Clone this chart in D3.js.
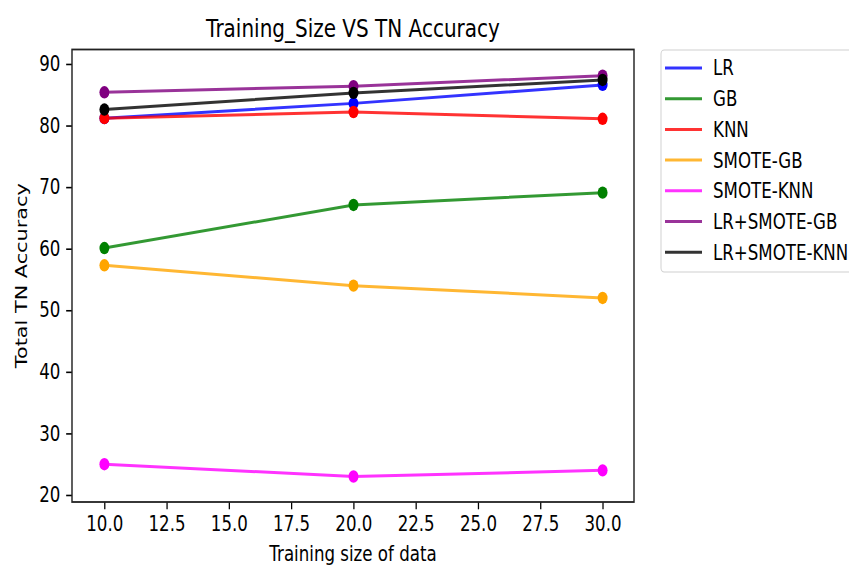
<!DOCTYPE html>
<html>
<head>
<meta charset="utf-8">
<script src="https://cdn.jsdelivr.net/npm/d3@7"></script>
<style>
  html, body { margin: 0; padding: 0; background: #fff; }
  svg { display: block; }
  text { font-family: "DejaVu Sans", sans-serif; fill: #000; }
</style>
</head>
<body>
<svg id="chart" width="849" height="565"></svg>
<script>
// ---- data ----
const trainingSizes = [10, 20, 30];
const seriesNames = ["LR", "GB", "KNN", "SMOTE-GB", "SMOTE-KNN", "LR+SMOTE-GB", "LR+SMOTE-KNN"];
const seriesColors = ["#0000ff", "#008000", "#ff0000", "#ffa500", "#ff00ff", "#800080", "#000000"];
const LR = [81.2, 83.6, 86.6];
const GB = [60.1, 67.1, 69.1];
const KNN = [81.2, 82.2, 81.1];
const SMOTE_GB = [57.3, 54.0, 52.0];
const SMOTE_KNN = [25.0, 23.0, 24.0];
const LR_SMOTE_GB = [85.4, 86.4, 88.1];
const LR_SMOTE_KNN = [82.6, 85.3, 87.4];
const seriesValues = [LR, GB, KNN, SMOTE_GB, SMOTE_KNN, LR_SMOTE_GB, LR_SMOTE_KNN];
const xTickValues = [10, 12.5, 15, 17.5, 20, 22.5, 25, 27.5, 30];
const yTickValues = [20, 30, 40, 50, 60, 70, 80, 90];
const titleText = "Training_Size VS TN Accuracy";
const xLabelText = "Training size of data";
const yLabelText = "Total TN Accuracy";

// ---- layout (the picture is horizontally squeezed) ----
const SX = 0.8;
const svg = d3.select("#chart");
const root = svg.append("g").attr("transform", `scale(${SX},1)`);
const pLeft = 72 / SX, pRight = 634 / SX, pTop = 49.5, pBottom = 502;
const fs = 20.8;

const x = d3.scaleLinear().domain([8.7, 31.26]).range([pLeft, pRight]);
const y = d3.scaleLinear().domain([18.86, 92.35]).range([pBottom, pTop]);

// axes
const xAxis = d3.axisBottom(x).tickValues(xTickValues).tickFormat(d3.format(".1f"))
  .tickSize(7.3).tickPadding(7);
const yAxis = d3.axisLeft(y).tickValues(yTickValues).tickFormat(d3.format("d"))
  .tickSize(7.3).tickPadding(7.3);

const gx = root.append("g").attr("transform", `translate(0,${pBottom})`).call(xAxis);
const gy = root.append("g").attr("transform", `translate(${pLeft},0)`).call(yAxis);
[gx, gy].forEach(g => {
  g.select(".domain").remove();
  g.selectAll(".tick line").attr("stroke", "#000").attr("stroke-width", 1.6);
  g.selectAll(".tick text").style("font-family", "DejaVu Sans").style("font-size", fs + "px").attr("fill", "#000");
});

// series
const line = d3.line().x((d, i) => x(trainingSizes[i])).y(d => y(d));
seriesValues.forEach((vals, k) => {
  root.append("path").datum(vals)
    .attr("d", line)
    .attr("fill", "none")
    .attr("stroke", seriesColors[k])
    .attr("stroke-opacity", 0.8)
    .attr("stroke-width", 3);
  root.selectAll(null).data(vals).enter().append("circle")
    .attr("cx", (d, i) => x(trainingSizes[i]))
    .attr("cy", d => y(d))
    .attr("r", 6.2)
    .attr("fill", seriesColors[k]);
});

// frame
root.append("rect")
  .attr("x", pLeft).attr("y", pTop)
  .attr("width", pRight - pLeft).attr("height", pBottom - pTop)
  .attr("fill", "none").attr("stroke", "#222").attr("stroke-width", 1.8);

// title and labels
root.append("text").attr("x", (pLeft + pRight) / 2).attr("y", 37)
  .attr("text-anchor", "middle").style("font-size", "25px").text(titleText);
root.append("text").attr("x", (pLeft + pRight) / 2).attr("y", 561)
  .attr("text-anchor", "middle").style("font-size", fs + "px").text(xLabelText);
root.append("text")
  .attr("transform", `translate(${21 / SX},${(pTop + pBottom) / 2}) rotate(-90)`)
  .attr("text-anchor", "middle").attr("dy", "0.35em")
  .style("font-size", fs + "px").text(yLabelText);

// legend
const lgX = 661 / SX, lgY = 50, rowH = 30.7;
root.append("rect")
  .attr("x", lgX).attr("y", lgY).attr("width", 260).attr("height", 222)
  .attr("rx", 4).attr("fill", "#fff").attr("fill-opacity", 0.8)
  .attr("stroke", "#d0d0d0").attr("stroke-width", 1.2);
seriesNames.forEach((name, k) => {
  const cy = 68 + k * rowH;
  root.append("line")
    .attr("x1", 665 / SX).attr("x2", 702 / SX).attr("y1", cy).attr("y2", cy)
    .attr("stroke", seriesColors[k]).attr("stroke-opacity", 0.8).attr("stroke-width", 3);
  root.append("text").attr("x", 713 / SX).attr("y", cy).attr("dy", "0.36em")
    .style("font-size", fs + "px").text(name);
});
</script>
</body>
</html>
